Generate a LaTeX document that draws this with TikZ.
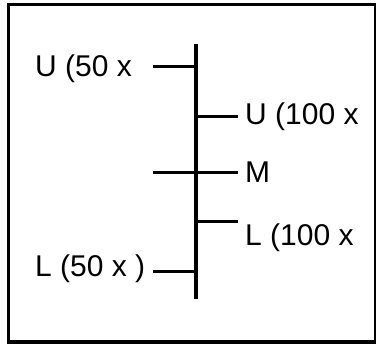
\documentclass[tikz,border=0pt]{standalone}
\usepackage{fontspec}
\setmainfont{Liberation Sans}
\usepackage{tikz}
\usetikzlibrary{positioning,calc}
\tikzset{
  frame/.style={draw=black, line width=3.5pt},
  spine/.style={draw=black, line width=4pt},
  tickline/.style={draw=black, line width=3.5pt},
  lbl/.style={inner sep=0pt, font=\fontsize{30}{35}\selectfont, anchor=base west}
}

\begin{document}
\begin{tikzpicture}[x=1pt, y=-1pt]
\useasboundingbox (0,0) rectangle (376,345);
\draw[frame] (8.5,4.5) rectangle (375.5,342);

% vertical axis
\coordinate (top) at (196,44);
\coordinate (bot) at (196,299);
\draw[spine] (top) -- (bot);

% branch points on the axis
\coordinate (a1) at (196,66.7);
\coordinate (a2) at (196,116.7);
\coordinate (a3) at (196,172.3);
\coordinate (a4) at (196,221.7);
\coordinate (a5) at (196,271.7);

% free ends of the branches
\coordinate (e1) at (153,66.7);
\coordinate (e2) at (238,116.7);
\coordinate (e3l) at (153,172.3);
\coordinate (e3r) at (238,172.3);
\coordinate (e4) at (238,221.7);
\coordinate (e5) at (153,271.7);

\draw[tickline] (e1) -- (a1);
\draw[tickline] (a2) -- (e2);
\draw[tickline] (e3l) -- (e3r);
\draw[tickline] (a4) -- (e4);
\draw[tickline] (e5) -- (a5);

% labels
\node[lbl] (u50) at (35,77) {U (50 x};
\node[lbl] (u100) at (245,125) {U (100 x};
\node[lbl] (mid) at (245,183) {M};
\node[lbl] (l100) at (245,245.5) {L (100 x};
\node[lbl] (l50) at (35,277) {L (50 x )};
\end{tikzpicture}
\end{document}
